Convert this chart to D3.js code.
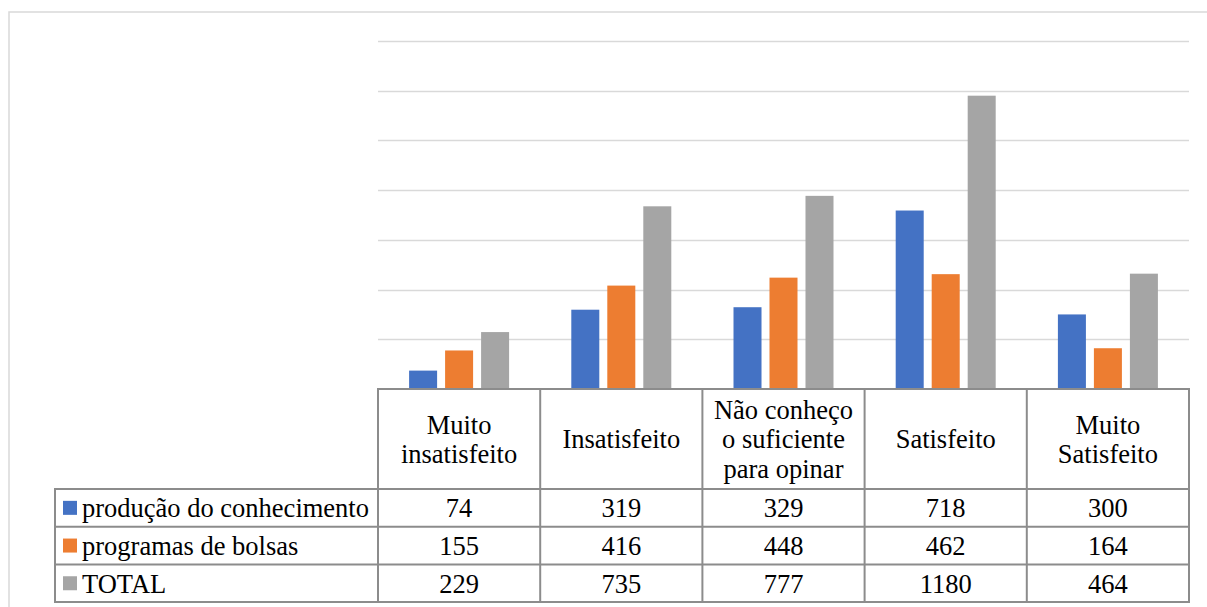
<!DOCTYPE html>
<html><head><meta charset="utf-8">
<script src="https://cdn.jsdelivr.net/npm/d3@7"></script>
<style>html,body{margin:0;padding:0;background:#fff;}svg{display:block;}</style>
</head><body>
<svg id="chart" width="1207" height="607"></svg>
<script>
const categories = [["Muito","insatisfeito"],["Insatisfeito"],["Não conheço","o suficiente","para opinar"],["Satisfeito"],["Muito","Satisfeito"]];
const seriesNames = ["produção do conhecimento","programas de bolsas","TOTAL"];
const producao = [74,319,329,718,300];
const bolsas = [155,416,448,462,164];
const total = [229,735,777,1180,464];
const yTicks = [200,400,600,800,1000,1200,1400];
const colors = ["#4472c4","#ed7d31","#a5a5a5"];

(function(){
const series = [producao, bolsas, total];
const svg = d3.select("#chart");
const fam = '"Liberation Serif", monospace';
const fs = "26.5px";

svg.append("rect").attr("x",9).attr("y",12).attr("width",1300).attr("height",700)
  .attr("fill","none").attr("stroke","#d9d9d9").attr("stroke-width",1.5);

const pLeft = 378, pRight = 1189, pTop = 41, base = 389;
const x = d3.scaleBand().domain(d3.range(categories.length)).range([pLeft,pRight]).padding(0);
const y = d3.scaleLinear().domain([0,1400]).range([base, pTop]);
const xi = d3.scaleBand().domain(d3.range(3)).range([-50,50]).paddingInner(0.222).paddingOuter(0);

svg.append("g").selectAll("line").data(yTicks).join("line")
  .attr("x1",pLeft).attr("x2",pRight)
  .attr("y1",d=>Math.round(y(d))+0.5).attr("y2",d=>Math.round(y(d))+0.5)
  .attr("stroke","#d9d9d9").attr("stroke-width",1.5);

series.forEach((vals,s)=>{
  svg.append("g").selectAll("rect").data(vals).join("rect")
    .attr("x",(d,i)=>x(i)+x.bandwidth()/2+xi(s))
    .attr("width",xi.bandwidth())
    .attr("y",d=>y(d)).attr("height",d=>base-y(d))
    .attr("fill",colors[s]);
});

const rowTop = 489, rowH = 37.7, legLeft = 55;
const stroke = "#8c8c8c", sw = 2;
x.domain().forEach(i=>{
  svg.append("line").attr("x1",x(i)).attr("x2",x(i)).attr("y1",base).attr("y2",rowTop+3*rowH).attr("stroke",stroke).attr("stroke-width",sw);
});
svg.append("line").attr("x1",pRight).attr("x2",pRight).attr("y1",base).attr("y2",rowTop+3*rowH).attr("stroke",stroke).attr("stroke-width",sw);
svg.append("line").attr("x1",pLeft-1).attr("x2",pRight+1).attr("y1",base).attr("y2",base).attr("stroke",stroke).attr("stroke-width",sw);
svg.append("line").attr("x1",legLeft).attr("x2",legLeft).attr("y1",rowTop).attr("y2",rowTop+3*rowH).attr("stroke",stroke).attr("stroke-width",sw);
for(let r=0;r<=3;r++){
  svg.append("line").attr("x1",legLeft-1).attr("x2",pRight+1).attr("y1",rowTop+r*rowH).attr("y2",rowTop+r*rowH).attr("stroke",stroke).attr("stroke-width",sw);
}
function txt(xp, yp, t, anchor){
  return svg.append("text").attr("x",xp).attr("y",yp).attr("dy","0.35em")
    .attr("text-anchor",anchor).attr("fill","#000")
    .style("font-family",fam).style("font-size",fs).text(t);
}
categories.forEach((lines,i)=>{
  const cy = (base+rowTop)/2;
  const lh = 29.5;
  lines.forEach((t,k)=>{
    txt(x(i)+x.bandwidth()/2, cy+(k-(lines.length-1)/2)*lh, t, "middle");
  });
});
series.forEach((vals,s)=>{
  const cy = rowTop + s*rowH + rowH/2;
  svg.append("rect").attr("x",63).attr("y",cy-7).attr("width",14).attr("height",14).attr("fill",colors[s]);
  txt(82, cy, seriesNames[s], "start");
  vals.forEach((v,i)=>{
    txt(x(i)+x.bandwidth()/2, cy, v, "middle");
  });
});
})();
</script>
</body></html>
